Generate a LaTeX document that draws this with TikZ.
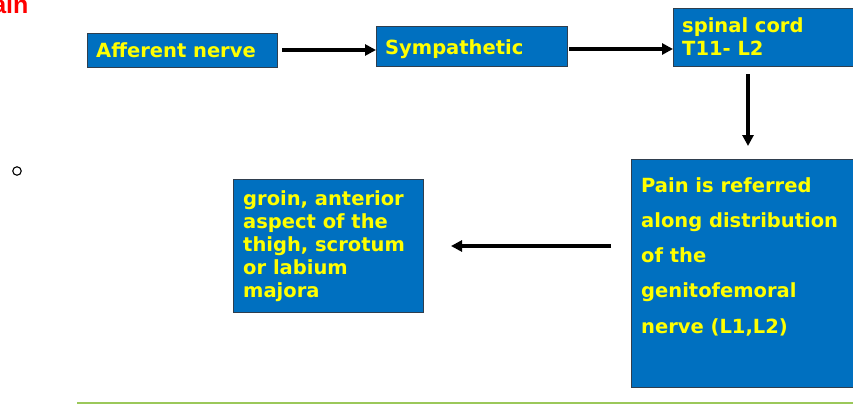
\documentclass[tikz,border=0pt]{standalone}
\usepackage{fontspec}
\setmainfont{DejaVu Sans}
\newfontfamily\titlefont{Liberation Sans}
\usetikzlibrary{arrows.meta}
\definecolor{boxblue}{HTML}{0070C0}
\definecolor{boxedge}{HTML}{2F3E4E}
\definecolor{txtyellow}{HTML}{FFFF00}
\definecolor{titlered}{HTML}{FF0000}
\definecolor{rulegreen}{HTML}{9BC85A}
\tikzset{
  bluebox/.style={draw=boxedge, line width=0.8pt, fill=boxblue, rectangle, inner sep=0pt},
  boxtext/.style={anchor=north west, inner sep=0pt, text=txtyellow, font=\bfseries\fontsize{19.5}{23}\selectfont, align=left},
  flow/.style={line width=3.2pt, -{Triangle[length=11pt,width=11pt]}}
}
\begin{document}
\begin{tikzpicture}[x=1pt,y=-1pt]
\useasboundingbox (0,0) rectangle (853,404);
% title fragment
\node[anchor=base west, inner sep=0pt, text=titlered, font=\titlefont\bfseries\fontsize{25}{27}\selectfont] (title) at (-24.6,13.5) {Pain};
% bullet
\node[draw, circle, line width=1.1pt, minimum size=8.5pt, inner sep=0pt] (bullet) at (17,171) {};
% boxes
\node[bluebox, minimum width=190pt, minimum height=34pt, anchor=north west] (aff) at (87,33) {};
\node[boxtext] (afft) at (96,42) {Afferent nerve};
\node[bluebox, minimum width=191pt, minimum height=40pt, anchor=north west] (sym) at (376,26) {};
\node[boxtext] (symt) at (385,39) {Sympathetic};
\node[bluebox, minimum width=190pt, minimum height=58pt, anchor=north west] (spc) at (673,8) {};
\node[boxtext] (spct) at (682,17) {spinal cord\\T11- L2};
\node[bluebox, minimum width=230pt, minimum height=228pt, anchor=north west] (pain) at (631,159) {};
\node[boxtext, font=\bfseries\fontsize{19.5}{35.3}\selectfont] (paint) at (641,177) {Pain is referred\\along distribution\\of the\\genitofemoral\\nerve (L1,L2)};
\node[bluebox, minimum width=190pt, minimum height=133pt, anchor=north west] (groin) at (233,179) {};
\node[boxtext, font=\bfseries\fontsize{19.5}{23.2}\selectfont] (groint) at (243,190) {groin, anterior\\aspect of the\\thigh, scrotum\\or labium\\majora};
% connectors
\coordinate (a1s) at (282,50);
\coordinate (a2s) at (569,49);
\coordinate (a3s) at (748,74);
\coordinate (a3e) at (748,146);
\coordinate (a4s) at (611,246);
\coordinate (a4e) at (451,246);
\draw[flow] (a1s) -- (sym.west |- a1s);
\draw[flow] (a2s) -- (spc.west |- a2s);
\draw[flow] (a3s) -- (a3e);
\draw[flow] (a4s) -- (a4e);
% rule
\draw[rulegreen, line width=1.6pt] (77,403) -- (853,403);
\end{tikzpicture}
\end{document}
